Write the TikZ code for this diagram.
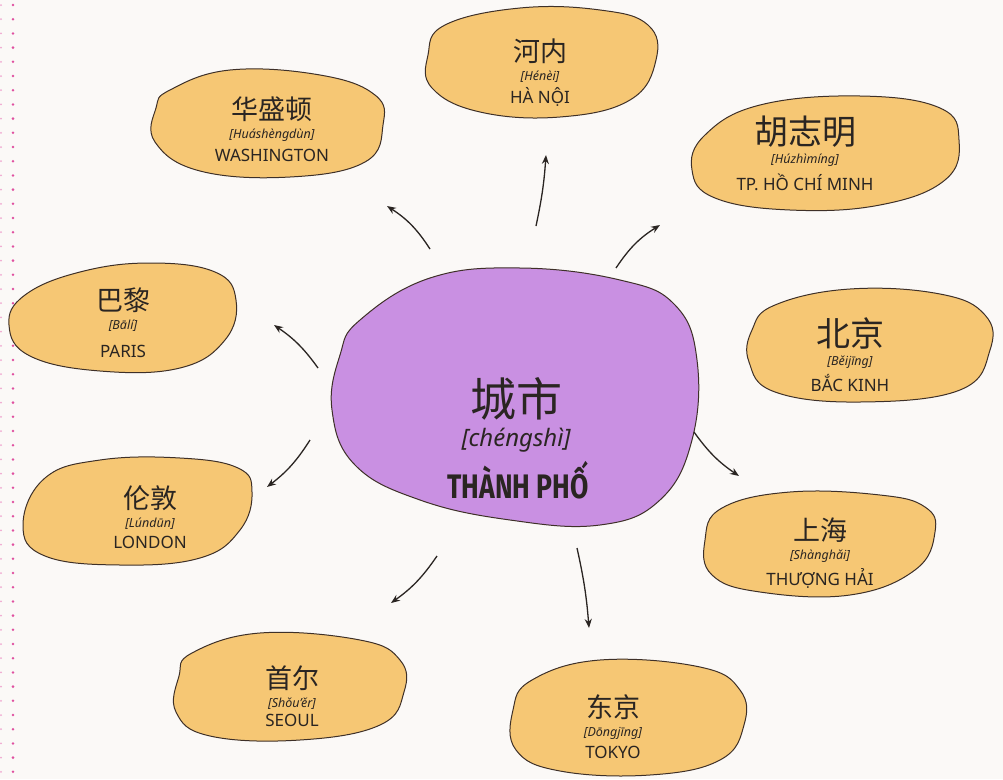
\documentclass[tikz,border=0pt]{standalone}
\usepackage{fontspec}
\setmainfont{Noto Sans}
\newfontfamily\cjk{Noto Sans CJK SC}
\newfontfamily\bold{Fira Sans}
\usetikzlibrary{arrows.meta}
\definecolor{sand}{HTML}{F6C774}
\definecolor{lilac}{HTML}{C990E2}
\definecolor{edge}{HTML}{3E3028}
\definecolor{ink}{HTML}{2A2522}
\definecolor{bg}{HTML}{FBF9F7}
\definecolor{dotpink}{HTML}{E050A0}
\tikzset{
  blob/.style={draw=edge, line width=1pt, fill=sand},
  hub/.style={draw=edge, line width=1pt, fill=lilac},
  cn/.style={font=\cjk\fontsize{27}{29}\selectfont, text=ink, inner sep=0pt},
  cnbig/.style={font=\cjk\fontsize{34}{36}\selectfont, text=ink, inner sep=0pt},
  py/.style={font=\itshape\fontsize{12.5}{14}\selectfont, text=ink, inner sep=0pt},
  lat/.style={font=\fontsize{17}{19}\selectfont, text=ink, inner sep=0pt},
  arr/.style={-{Stealth[length=9pt,width=7pt]}, line width=1.3pt, draw=ink},
}
\newcommand{\citytext}[6]{%
  \node[#6] (#1-cn) at (#2,#3) {#4};
  \node[py] (#1-py) at (#2,#3+26) {#5};
}
\begin{document}
\begin{tikzpicture}[x=1pt,y=-1pt]
\fill[bg] (0,0) rectangle (1003,779);
\useasboundingbox (0,0) rectangle (1003,779);
% pink dotted margin
\foreach \k in {0,...,54} {
  \fill[dotpink] (13,5+14.2*\k) circle (1.4);
  \fill[dotpink!50] (1,5+14.2*\k) circle (1.0);
}
% blobs
\draw[blob] plot[smooth cycle, tension=0.7] coordinates {(445,25) (520,8) (600,10) (648,25) (656,60) (630,100) (560,117) (480,112) (432,88) (428,55)};
\draw[blob] plot[smooth cycle, tension=0.7] coordinates {(170,90) (230,70) (320,75) (375,95) (383,125) (365,162) (290,177) (200,171) (155,142) (156,108)};
\draw[blob] plot[smooth cycle, tension=0.7] coordinates {(705,135) (760,105) (860,96) (940,108) (959,140) (945,180) (880,205) (790,210) (715,198) (692,170)};
\draw[blob] plot[smooth cycle, tension=0.7] coordinates {(25,295) (80,272) (150,263) (215,272) (236,300) (225,340) (180,368) (100,371) (30,356) (9,325)};
\draw[blob] plot[smooth cycle, tension=0.7] coordinates {(775,305) (850,289) (940,294) (985,315) (990,350) (960,390) (860,402) (775,392) (749,362) (752,330)};
\draw[hub] plot[smooth cycle, tension=0.7] coordinates {(360,320) (430,278) (520,268) (620,280) (675,305) (697,360) (692,440) (660,500) (600,525) (510,520) (420,500) (355,465) (332,410) (340,355)};
\draw[blob] plot[smooth cycle, tension=0.7] coordinates {(45,478) (100,460) (180,458) (238,468) (252,492) (240,530) (200,558) (120,565) (45,556) (23,525)};
\draw[blob] plot[smooth cycle, tension=0.7] coordinates {(722,508) (790,492) (880,495) (925,507) (935,532) (915,570) (850,595) (760,592) (712,575) (705,540)};
\draw[blob] plot[smooth cycle, tension=0.7] coordinates {(192,653) (260,633) (360,640) (400,660) (404,692) (380,725) (300,740) (210,736) (176,712) (179,676)};
\draw[blob] plot[smooth cycle, tension=0.7] coordinates {(532,680) (600,660) (700,667) (740,690) (744,725) (720,760) (650,775) (560,771) (516,750) (513,710)};
% texts
\citytext{hn}{540}{51}{河内}{[Hénèi]}{cn}
\node[lat] (hn-vi) at (540,97) {HÀ NỘI};
\citytext{wa}{272}{109}{华盛顿}{[Huáshèngdùn]}{cn}
\node[lat] (wa-vi) at (272,155) {WASHINGTON};
\node[cnbig] (hcm-cn) at (805,132) {胡志明};
\node[py] (hcm-py) at (805,160) {[Húzhìmíng]};
\node[lat] (hcm-vi) at (805,182) {TP. HỒ CHÍ MINH};
\citytext{pa}{123}{300}{巴黎}{[Bālí]}{cn}
\node[lat] (pa-vi) at (123,351) {PARIS};
\node[cnbig] (bk-cn) at (850,333) {北京};
\node[py] (bk-py) at (850,362) {[Běijīng]};
\node[lat] (bk-vi) at (850,383) {BẮC KINH};
\node[font=\cjk\fontsize{46}{48}\selectfont, text=ink, inner sep=0pt] (hub-cn) at (516,399) {城市};
\node[font=\itshape\fontsize{24}{26}\selectfont, text=ink, inner sep=0pt] (hub-py) at (516,440) {[chéngshì]};
\node[inner sep=0pt, text=ink] (hub-vi) at (518,480) {\scalebox{0.78}[1]{\bold\bfseries\fontsize{34}{36}\selectfont THÀNH PHỐ}};
\citytext{lo}{150}{498}{伦敦}{[Lúndūn]}{cn}
\node[lat] (lo-vi) at (150,542) {LONDON};
\citytext{sh}{820}{530}{上海}{[Shànghǎi]}{cn}
\node[lat] (sh-vi) at (820,578) {THƯỢNG HẢI};
\citytext{se}{292}{678}{首尔}{[Shǒu’ěr]}{cn}
\node[lat] (se-vi) at (292,720) {SEOUL};
\citytext{to}{613}{707}{东京}{[Dōngjīng]}{cn}
\node[lat] (to-vi) at (613,752) {TOKYO};
% arrow ends
\coordinate (a1s) at (536,226); \coordinate (a1e) at (546,155);
\coordinate (a2s) at (430,249); \coordinate (a2e) at (387,206);
\coordinate (a3s) at (616,268); \coordinate (a3e) at (660,225);
\coordinate (a4s) at (318,368); \coordinate (a4e) at (274,325);
\coordinate (a5s) at (310,440); \coordinate (a5e) at (267,487);
\coordinate (a6s) at (694,432); \coordinate (a6e) at (739,476);
\coordinate (a7s) at (437,556); \coordinate (a7e) at (391,603);
\coordinate (a8s) at (577,548); \coordinate (a8e) at (589,628);
\draw[arr] (a1s) to[bend right=4] (a1e);
\draw[arr] (a2s) to[bend right=12] (a2e);
\draw[arr] (a3s) to[bend left=12] (a3e);
\draw[arr] (a4s) to[bend right=10] (a4e);
\draw[arr] (a5s) to[bend left=10] (a5e);
\draw[arr] (a6s) to[bend right=10] (a6e);
\draw[arr] (a7s) to[bend left=10] (a7e);
\draw[arr] (a8s) to[bend left=4] (a8e);
\end{tikzpicture}
\end{document}
